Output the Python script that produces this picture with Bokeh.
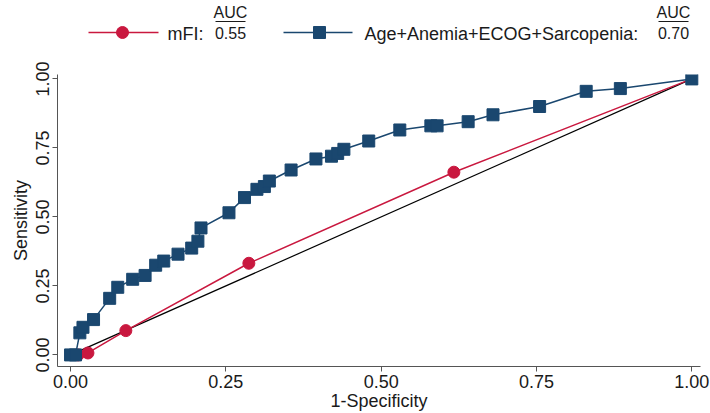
from bokeh.plotting import figure
from bokeh.layouts import column
from bokeh.models import Range1d, FixedTicker, Label
from bokeh.embed import file_html
from bokeh.resources import INLINE

# ---- data ----
mfi_x = [0.0, 0.012, 0.028, 0.089, 0.287, 0.617, 1.0]
mfi_y = [0.0, 0.0, 0.007, 0.088, 0.332, 0.662, 1.0]

comb_x = [0.0, 0.008, 0.015, 0.02, 0.037, 0.063, 0.076, 0.10, 0.12, 0.137, 0.15,
          0.173, 0.195, 0.205, 0.21, 0.255, 0.28, 0.30, 0.312, 0.32, 0.355, 0.395,
          0.42, 0.43, 0.44, 0.48, 0.53, 0.58, 0.59, 0.64, 0.68, 0.755, 0.83, 0.885, 1.0]
comb_y = [0.0, 0.0, 0.08, 0.10, 0.128, 0.205, 0.245, 0.274, 0.288, 0.325, 0.34,
          0.365, 0.387, 0.412, 0.46, 0.515, 0.57, 0.60, 0.61, 0.63, 0.67, 0.71,
          0.72, 0.73, 0.745, 0.775, 0.815, 0.83, 0.83, 0.845, 0.87, 0.90, 0.955, 0.965, 1.0]

ref_x = [0.0, 1.0]
ref_y = [0.0, 1.0]

tick_vals = [0.0, 0.25, 0.5, 0.75, 1.0]
tick_labels = {0.0: "0.00", 0.25: "0.25", 0.5: "0.50", 0.75: "0.75", 1.0: "1.00"}

names = ["mFI:", "Age+Anemia+ECOG+Sarcopenia:"]
aucs = ["0.55", "0.70"]

RED = "#c9183f"
BLUE = "#1a476f"
FONT = "Liberation Sans"
AXC = "#555555"
TXT = "#1a1a1a"

# ---- legend strip (frame aligned with the main plot: 57..700 px) ----
leg = figure(width=710, height=60, x_range=Range1d(57, 700), y_range=Range1d(60, 0),
             output_backend="svg", toolbar_location=None,
             min_border_left=57, min_border_right=10, min_border_top=0, min_border_bottom=0)
leg.axis.visible = False
leg.grid.visible = False
leg.outline_line_color = None

leg.line([88, 158], [32, 32], line_color=RED, line_width=1.5)
leg.scatter([122], [32], marker="circle", size=12, fill_color=RED, line_color=RED)
leg.line([283, 352], [32, 32], line_color=BLUE, line_width=1.5)
leg.scatter([319], [32], marker="square", size=12, fill_color=BLUE, line_color=BLUE)

for x, txt in [(167, names[0]), (364, names[1])]:
    leg.add_layout(Label(x=x, y=33, text=txt, text_font=FONT, text_font_size="18px",
                         text_baseline="middle", text_align="left", text_color=TXT))
for x, a in [(230, aucs[0]), (673, aucs[1])]:
    leg.add_layout(Label(x=x, y=32, text=a, text_font=FONT, text_font_size="16px",
                         text_baseline="middle", text_align="center", text_color=TXT))
    leg.add_layout(Label(x=x, y=12, text="AUC", text_font=FONT, text_font_size="16px",
                         text_baseline="middle", text_align="center", text_color=TXT))
    leg.line([x - 15, x + 15], [21, 21], line_color=TXT, line_width=1)

# ---- main plot ----
p = figure(width=710, height=353, output_backend="svg", toolbar_location=None,
           x_range=Range1d(-0.021, 1.014), y_range=Range1d(-0.042, 1.016),
           min_border_left=57, min_border_right=10, min_border_top=14, min_border_bottom=47)
p.grid.visible = False
p.outline_line_color = None
p.background_fill_color = "white"

p.line(ref_x, ref_y, line_color="black", line_width=1.2)
p.line(mfi_x, mfi_y, line_color=RED, line_width=1.5)
p.scatter(mfi_x[1:-1], mfi_y[1:-1], marker="circle", size=12, fill_color=RED, line_color=RED)
p.line(comb_x, comb_y, line_color=BLUE, line_width=1.5)
p.scatter(comb_x, comb_y, marker="square", size=12, fill_color=BLUE, line_color=BLUE)

for ax in (p.xaxis[0], p.yaxis[0]):
    ax.ticker = FixedTicker(ticks=tick_vals)
    ax.major_label_overrides = tick_labels
    ax.minor_tick_line_color = None
    ax.major_tick_out = 5
    ax.major_tick_in = 0
    ax.axis_line_color = AXC
    ax.major_tick_line_color = AXC
    ax.major_label_text_font = FONT
    ax.major_label_text_font_size = "18px"
    ax.major_label_text_color = TXT
    ax.axis_label_text_font = FONT
    ax.axis_label_text_font_size = "18px"
    ax.axis_label_text_font_style = "normal"
    ax.axis_label_text_color = TXT
    ax.major_label_standoff = 3

p.xaxis.axis_label_standoff = 0
p.yaxis.axis_label_standoff = 3
p.xaxis.axis_label = "1-Specificity"
p.yaxis.axis_label = "Sensitivity"
p.yaxis.major_label_orientation = "vertical"

layout = column(leg, p, spacing=0)
open("out.html", "w").write(file_html(layout, INLINE))
